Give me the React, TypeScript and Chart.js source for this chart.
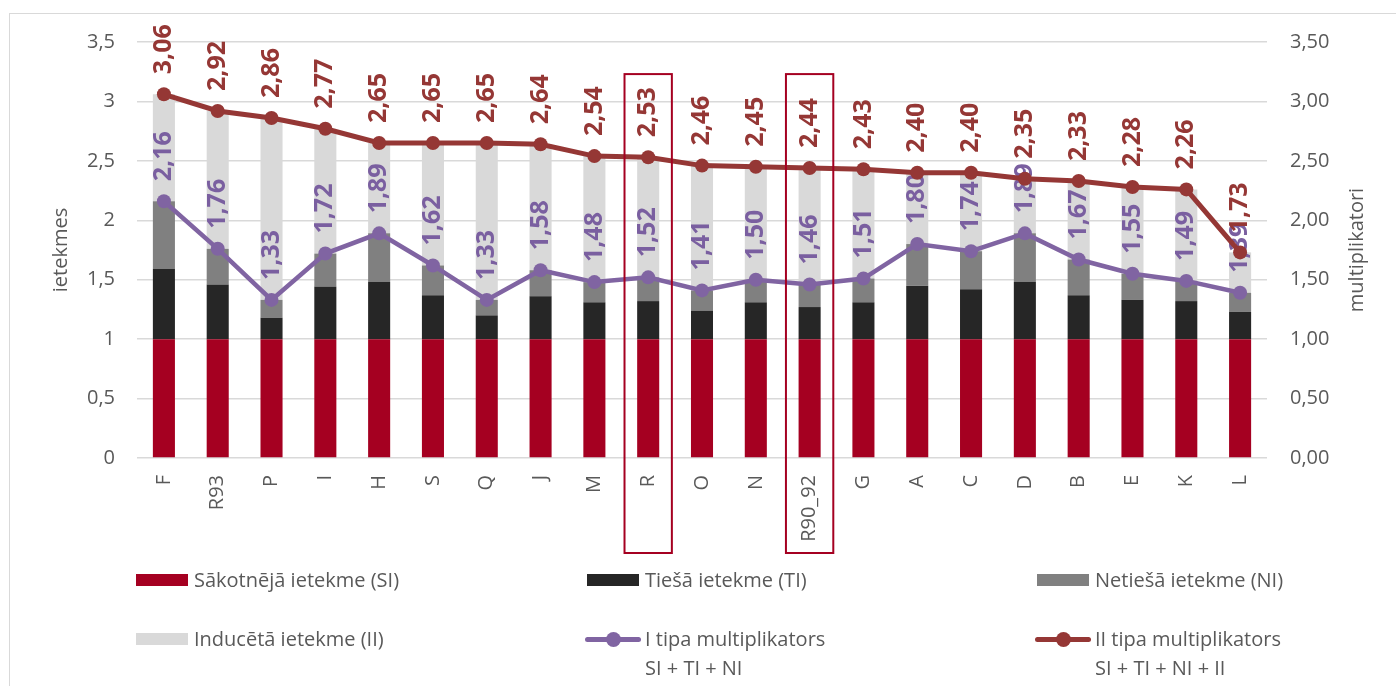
import React, { useEffect, useRef } from 'react';
import { Chart, registerables } from 'chart.js';

Chart.register(...registerables);

const FONT = "'Open Sans', 'Noto Sans', sans-serif";
const TEXT = '#595959';

const categories = ['F', 'R93', 'P', 'I', 'H', 'S', 'Q', 'J', 'M', 'R', 'O', 'N', 'R90_92', 'G', 'A', 'C', 'D', 'B', 'E', 'K', 'L'];
const highlighted = ['R', 'R90_92'];

const siValues = [1, 1, 1, 1, 1, 1, 1, 1, 1, 1, 1, 1, 1, 1, 1, 1, 1, 1, 1, 1, 1];
const tiValues = [0.59, 0.46, 0.18, 0.44, 0.48, 0.37, 0.20, 0.36, 0.31, 0.32, 0.24, 0.31, 0.27, 0.31, 0.45, 0.42, 0.48, 0.37, 0.33, 0.32, 0.23];
const niValues = [0.57, 0.30, 0.15, 0.28, 0.41, 0.25, 0.13, 0.22, 0.17, 0.20, 0.17, 0.19, 0.19, 0.20, 0.35, 0.32, 0.41, 0.30, 0.22, 0.17, 0.16];
const iiValues = [0.90, 1.16, 1.53, 1.05, 0.76, 1.03, 1.32, 1.06, 1.06, 1.01, 1.05, 0.95, 0.98, 0.92, 0.60, 0.66, 0.46, 0.66, 0.73, 0.77, 0.34];
const typeIValues = [2.16, 1.76, 1.33, 1.72, 1.89, 1.62, 1.33, 1.58, 1.48, 1.52, 1.41, 1.50, 1.46, 1.51, 1.80, 1.74, 1.89, 1.67, 1.55, 1.49, 1.39];
const typeIIValues = [3.06, 2.92, 2.86, 2.77, 2.65, 2.65, 2.65, 2.64, 2.54, 2.53, 2.46, 2.45, 2.44, 2.43, 2.40, 2.40, 2.35, 2.33, 2.28, 2.26, 1.73];

const leftTicksMax = 3.5;
const highlightTop = 3.23;

const C_SI = '#A50021';
const C_TI = '#262626';
const C_NI = '#808080';
const C_II = '#D9D9D9';
const C_T1 = '#8064A2';
const C_T1_LABEL = '#7A5FA0';
const C_T2 = '#953735';
const C_T2_LABEL = '#953735';

const legendItems = [
  { label: 'Sākotnējā ietekme (SI)', color: C_SI, kind: 'box', sub: '' },
  { label: 'Tiešā ietekme (TI)', color: C_TI, kind: 'box', sub: '' },
  { label: 'Netiešā ietekme (NI)', color: C_NI, kind: 'box', sub: '' },
  { label: 'Inducētā ietekme (II)', color: C_II, kind: 'box', sub: '' },
  { label: 'I tipa multiplikators', color: C_T1, kind: 'line', sub: 'SI + TI + NI' },
  { label: 'II tipa multiplikators', color: C_T2, kind: 'line', sub: 'SI + TI + NI + II' },
];

const fmt2 = (v: number) => v.toFixed(2).replace('.', ',');

const labelPlugin = {
  id: 'pointLabels',
  afterDatasetDraw(chart: any, args: any) {
    const ds: any = chart.data.datasets[args.index];
    if (!ds.labelColor) return;
    const ctx = chart.ctx;
    ctx.save();
    ctx.font = `bold 25px ${FONT}`;
    ctx.fillStyle = ds.labelColor;
    ctx.textAlign = 'left';
    ctx.textBaseline = 'middle';
    args.meta.data.forEach((pt: any, i: number) => {
      ctx.save();
      ctx.translate(pt.x, pt.y - 20);
      ctx.rotate(-Math.PI / 2);
      ctx.fillText(fmt2(ds.data[i]), 0, 0);
      ctx.restore();
    });
    ctx.restore();
  },
};

const extrasPlugin = {
  id: 'extras',
  afterDraw(chart: any) {
    const ctx = chart.ctx;
    const x = chart.scales.x;
    const y = chart.scales.y;
    const area = chart.chartArea;
    const cw = x.getPixelForValue(1) - x.getPixelForValue(0);
    ctx.save();
    ctx.strokeStyle = C_SI;
    ctx.lineWidth = 2;
    highlighted.forEach((cat) => {
      const idx = categories.indexOf(cat);
      const cx = x.getPixelForValue(idx);
      const half = cw * 0.44;
      const top = y.getPixelForValue(highlightTop);
      const bottom = area.bottom + 95;
      ctx.strokeRect(cx - half, top, half * 2, bottom - top);
    });
    // right axis title, reading bottom-to-top
    ctx.fillStyle = TEXT;
    ctx.font = `20px ${FONT}`;
    ctx.textAlign = 'center';
    ctx.textBaseline = 'middle';
    ctx.translate(chart.width - 39, (area.top + area.bottom) / 2);
    ctx.rotate(-Math.PI / 2);
    ctx.fillText('multiplikatori', 0, 0);
    ctx.restore();
  },
};

function LegendEntry({ item, left, top }: { item: any; left: number; top: number }) {
  return (
    <div style={{ position: 'absolute', left, top }}>
      <div style={{ display: 'flex', alignItems: 'center', height: 30 }}>
        <div style={{ width: 52, height: 14, position: 'relative', flex: '0 0 52px' }}>
          {item.kind === 'box' ? (
            <div style={{ position: 'absolute', left: 0, top: 1, width: 52, height: 12, background: item.color }} />
          ) : (
            <>
              <div style={{ position: 'absolute', left: -2, top: 5, width: 56, height: 5, borderRadius: 3, background: item.color }} />
              <div style={{ position: 'absolute', left: 19, top: 0, width: 15, height: 15, borderRadius: '50%', background: item.color }} />
            </>
          )}
        </div>
        <span style={{ marginLeft: 6, fontSize: 20, color: TEXT, whiteSpace: 'nowrap', lineHeight: '30px' }}>{item.label}</span>
      </div>
      {item.sub ? (
        <div style={{ marginLeft: 58, marginTop: -1, fontSize: 20, color: TEXT, whiteSpace: 'nowrap', lineHeight: '30px' }}>{item.sub}</div>
      ) : null}
    </div>
  );
}

export default function App() {
  const ref = useRef<HTMLCanvasElement>(null);

  useEffect(() => {
    Chart.defaults.font.family = FONT;
    Chart.defaults.color = TEXT;
    const barCommon = { type: 'bar' as const, stack: 'imp', yAxisID: 'y', order: 2, barPercentage: 0.41, categoryPercentage: 1, borderWidth: 0 };
    const chart = new Chart(ref.current as HTMLCanvasElement, {
      data: {
        labels: categories,
        datasets: [
          { ...barCommon, label: legendItems[0].label, data: siValues, backgroundColor: C_SI },
          { ...barCommon, label: legendItems[1].label, data: tiValues, backgroundColor: C_TI },
          { ...barCommon, label: legendItems[2].label, data: niValues, backgroundColor: C_NI },
          { ...barCommon, label: legendItems[3].label, data: iiValues, backgroundColor: C_II },
          {
            type: 'line', label: legendItems[4].label, data: typeIValues, yAxisID: 'y1', order: 1,
            borderColor: C_T1, backgroundColor: C_T1, borderWidth: 4.5, pointRadius: 7, pointBorderWidth: 0,
            pointBackgroundColor: C_T1, tension: 0, labelColor: C_T1_LABEL,
          } as any,
          {
            type: 'line', label: legendItems[5].label, data: typeIIValues, yAxisID: 'y1', order: 0,
            borderColor: C_T2, backgroundColor: C_T2, borderWidth: 5, pointRadius: 7, pointBorderWidth: 0,
            pointBackgroundColor: C_T2, tension: 0, labelColor: C_T2_LABEL,
          } as any,
        ],
      },
      options: {
        responsive: false,
        animation: false,
        layout: { padding: { top: 42, left: 0, right: 0, bottom: 0 } },
        plugins: { legend: { display: false }, tooltip: { enabled: false } },
        scales: {
          x: {
            stacked: true,
            grid: { display: false, drawTicks: false, tickLength: 0 },
            border: { display: false },
            ticks: { autoSkip: false, maxRotation: 90, minRotation: 90, padding: 17, font: { size: 20 }, color: TEXT },
            afterFit: (s: any) => { s.height = 228; },
          },
          y: {
            stacked: true,
            position: 'left',
            min: 0,
            max: leftTicksMax,
            ticks: { stepSize: 0.5, padding: 22, font: { size: 20 }, color: TEXT, callback: (v: any) => String(v).replace('.', ',') },
            grid: { color: '#D9D9D9', lineWidth: 1.5, drawTicks: false, tickLength: 0 },
            border: { display: false },
            title: { display: true, text: 'ietekmes', font: { size: 20 }, color: TEXT, padding: { top: 49, bottom: 0 } },
            afterFit: (s: any) => { s.width = 137; },
          },
          y1: {
            position: 'right',
            min: 0,
            max: leftTicksMax,
            ticks: { stepSize: 0.5, padding: 23, font: { size: 20 }, color: TEXT, callback: (v: any) => fmt2(Number(v)) },
            grid: { display: false, drawTicks: false, tickLength: 0 },
            border: { display: false },
            afterFit: (s: any) => { s.width = 129; },
          },
        },
      },
      plugins: [labelPlugin, extrasPlugin],
    } as any);
    return () => chart.destroy();
  }, []);

  const colX = [136, 587, 1037];
  const rowTop = [565, 624];

  return (
    <div style={{ position: 'absolute', left: 0, top: 0, width: 1396, height: 686, overflow: 'hidden', background: '#fff', fontFamily: FONT }}>
      <div style={{ position: 'absolute', left: 9, top: 13, width: 1420, height: 720, border: '1.5px solid #D9D9D9' }} />
      <canvas ref={ref} width={1396} height={686} style={{ position: 'absolute', left: 0, top: 0, width: 1396, height: 686 }} />
      {legendItems.map((item, i) => (
        <LegendEntry key={item.label} item={item} left={colX[i % 3]} top={rowTop[Math.floor(i / 3)]} />
      ))}
    </div>
  );
}
